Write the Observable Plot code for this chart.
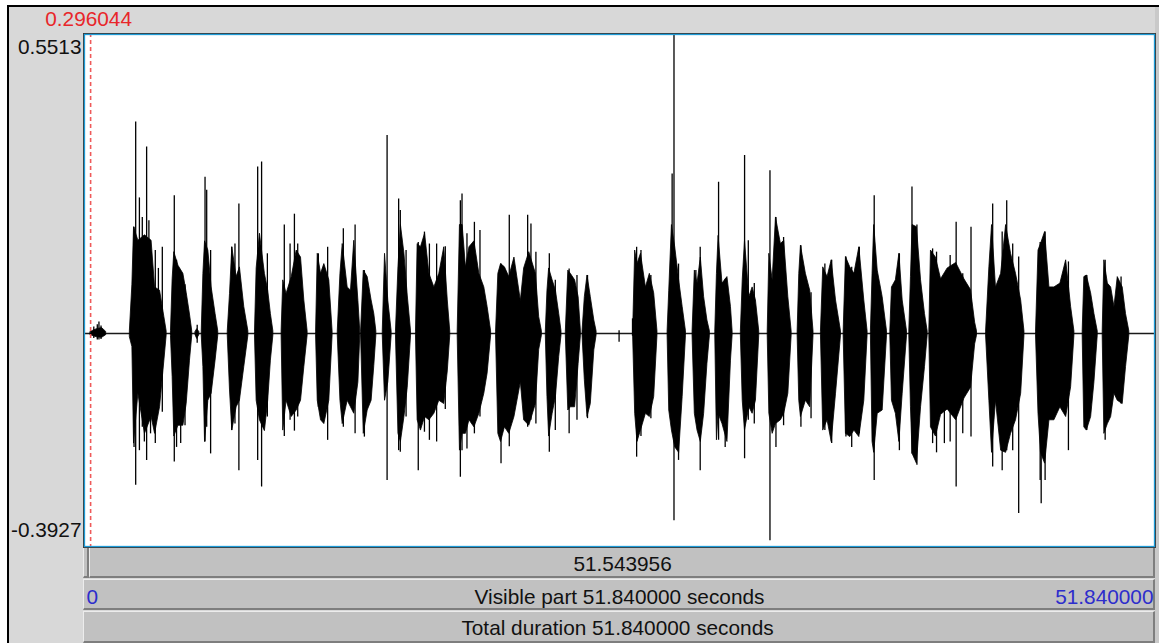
<!DOCTYPE html>
<html>
<head>
<meta charset="utf-8">
<script src="https://cdn.jsdelivr.net/npm/d3@7"></script>
<script src="https://cdn.jsdelivr.net/npm/@observablehq/plot@0.6"></script>
<style>
  html, body { margin: 0; padding: 0; background: #fff; }
  #win { position: relative; width: 1159px; height: 643px; overflow: hidden; font-family: "Liberation Sans", Arial, sans-serif; }
  #panel { position: absolute; left: 7px; top: 5px; width: 1152px; height: 638px; box-sizing: border-box;
           background: #d8d8d8; border-left: 2px solid #000; border-top: 2px solid #000; }
  #rightStrip { position: absolute; left: 1155px; top: 7px; width: 4px; height: 636px; background: #c9c9c9; }
  .bar { position: absolute; box-sizing: border-box; background: #c1c1c1;
         border-top: 1px solid #ececec; border-left: 1px solid #ececec;
         border-bottom: 2px solid #7e7e7e; border-right: 2px solid #7e7e7e; }
  #plot { position: absolute; left: 0; top: 0; }
</style>
</head>
<body>
<div id="win">
  <div id="panel"></div>
  <div id="rightStrip"></div>
  <div class="bar" id="bar1a" style="left:83px; top:547px; width:6px; height:31px;"></div>
  <div class="bar" id="bar1b" style="left:89px; top:547px; width:1066px; height:31px;"></div>
  <div class="bar" style="left:83px; top:579px; width:1072px; height:31px;"></div>
  <div class="bar" style="left:83px; top:611px; width:1072px; height:32px;"></div>
  <div id="plot"></div>
</div>
<script>
// Sound: total duration and amplitude range (s, linear amplitude)
const duration = 51.84;
const visibleStart = 0;
const visibleEnd = 51.84;
const ampMax = 0.5513;
const ampMin = -0.3927;
const selectionStart = 0.296044;

// Envelope of each voiced stretch: [time s, upper amplitude, lower amplitude]
const bursts = [
  [[0.30,.003,-.003],[0.60,.008,-.007],[0.85,.01,-.008],[1.05,.003,-.003]],
  [[2.20,.006,-.007],[2.32,.09,-.025],[2.40,.196,-.203],[2.61,.171,-.111],[2.93,.181,-.185],[3.25,.171,-.154],[3.42,.085,-.185],[3.66,.079,-.136],[3.87,.03,-.05],[3.98,.004,-.004]],
  [[4.19,.005,-.005],[4.27,.10,-.08],[4.35,.15,-.19],[4.55,.125,-.17],[4.79,.11,-.17],[4.95,.075,-.13],[5.11,.035,-.05],[5.22,.004,-.004]],
  [[5.38,.003,-.003],[5.46,.008,-.01],[5.56,.003,-.003]],
  [[5.68,.004,-.004],[5.76,.11,-.062],[5.84,.17,-.2],[6.00,.153,-.124],[6.16,.085,-.111],[6.35,.036,-.05],[6.48,.004,-.004]],
  [[6.94,.004,-.004],[7.05,.073,-.105],[7.16,.159,-.179],[7.37,.104,-.136],[7.53,.122,-.124],[7.74,.049,-.062],[7.94,.004,-.004]],
  [[8.26,.004,-.004],[8.34,.12,-.124],[8.50,.184,-.16],[8.74,.11,-.18],[8.90,.079,-.124],[9.03,.036,-.05],[9.15,.004,-.004]],
  [[9.55,.004,-.004],[9.63,.098,-.179],[9.79,.073,-.124],[10.04,.104,-.154],[10.28,.153,-.142],[10.49,.14,-.124],[10.65,.061,-.062],[10.81,.004,-.004]],
  [[11.22,.004,-.004],[11.30,.147,-.124],[11.46,.11,-.16],[11.62,.128,-.167],[11.86,.098,-.124],[12.02,.004,-.004]],
  [[12.27,.004,-.004],[12.40,.11,-.124],[12.51,.165,-.167],[12.75,.085,-.124],[12.91,.079,-.136],[13.07,.171,-.148],[13.27,.06,-.09],[13.36,.004,-.004]],
  [[13.40,.004,-.004],[13.53,.116,-.185],[13.72,.104,-.142],[13.91,.061,-.124],[14.04,.036,-.06],[14.14,.004,-.004]],
  [[14.45,.004,-.004],[14.56,.147,-.124],[14.72,.06,-.09],[14.88,.004,-.004]],
  [[15.09,.004,-.004],[15.21,.122,-.185],[15.33,.2,-.2],[15.50,.147,-.154],[15.66,.07,-.1],[15.82,.004,-.004]],
  [[16.06,.004,-.004],[16.14,.165,-.16],[16.30,.159,-.179],[16.50,.184,-.154],[16.71,.11,-.16],[16.95,.085,-.148],[17.19,.11,-.124],[17.43,.159,-.13],[17.60,.061,-.07],[17.72,.004,-.004]],
  [[18.08,.004,-.004],[18.19,.2,-.216],[18.32,.2,-.185],[18.48,.122,-.185],[18.65,.159,-.16],[18.89,.17,-.173],[19.13,.11,-.148],[19.37,.085,-.111],[19.53,.049,-.074],[19.70,.004,-.004]],
  [[19.94,.004,-.004],[20.05,.11,-.185],[20.18,.128,-.2],[20.37,.122,-.173],[20.58,.104,-.185],[20.83,.14,-.154],[21.14,.06,-.09],[21.30,.12,-.16],[21.55,.15,-.17],[21.87,.11,-.13],[22.03,.03,-.03],[22.16,.004,-.004]],
  [[22.35,.004,-.004],[22.43,.079,-.117],[22.51,.12,-.19],[22.68,.098,-.148],[22.84,.079,-.117],[23.00,.036,-.043],[23.11,.004,-.004]],
  [[23.32,.004,-.004],[23.44,.116,-.142],[23.56,.11,-.136],[23.77,.098,-.136],[23.94,.067,-.056],[24.05,.004,-.004]],
  [[24.13,.004,-.004],[24.24,.067,-.086],[24.37,.107,-.154],[24.53,.067,-.13],[24.70,.024,-.031],[24.81,.004,-.004]],
  [[26.58,.004,-.004],[26.68,.153,-.148],[26.79,.128,-.2],[26.96,.147,-.179],[27.20,.085,-.148],[27.39,.11,-.154],[27.60,.074,-.117],[27.76,.004,-.004]],
  [[28.25,.004,-.004],[28.33,.079,-.142],[28.46,.2,-.179],[28.62,.159,-.21],[28.81,.098,-.22],[28.98,.049,-.117],[29.14,.004,-.004]],
  [[29.46,.004,-.004],[29.57,.116,-.148],[29.70,.092,-.179],[29.86,.14,-.2],[30.02,.067,-.148],[30.18,.024,-.056],[30.30,.004,-.004]],
  [[30.56,.004,-.004],[30.64,.11,-.197],[30.72,.18,-.148],[30.91,.092,-.167],[31.15,.104,-.2],[31.32,.049,-.05],[31.40,.004,-.004]],
  [[31.80,.004,-.004],[31.89,.098,-.124],[32.00,.171,-.179],[32.21,.067,-.136],[32.37,.085,-.148],[32.53,.061,-.124],[32.69,.004,-.004]],
  [[33.10,.004,-.004],[33.18,.147,-.148],[33.34,.098,-.185],[33.50,.214,-.167],[33.74,.165,-.16],[33.90,.171,-.148],[34.10,.067,-.111],[34.26,.004,-.004]],
  [[34.55,.004,-.004],[34.63,.11,-.124],[34.71,.162,-.154],[34.95,.11,-.124],[35.16,.079,-.136],[35.32,.004,-.004]],
  [[35.68,.004,-.004],[35.79,.122,-.179],[36.00,.104,-.16],[36.20,.135,-.2],[36.41,.061,-.111],[36.65,.004,-.004]],
  [[36.78,.004,-.004],[36.89,.141,-.185],[37.10,.122,-.191],[37.30,.11,-.179],[37.54,.159,-.191],[37.78,.061,-.124],[37.94,.004,-.004]],
  [[38.10,.004,-.004],[38.18,.11,-.2],[38.26,.2,-.22],[38.43,.116,-.148],[38.67,.067,-.142],[38.88,.004,-.004]],
  [[39.04,.004,-.004],[39.12,.085,-.124],[39.31,.098,-.148],[39.48,.147,-.2],[39.64,.061,-.111],[39.85,.004,-.004]],
  [[39.96,.004,-.004],[40.04,.104,-.136],[40.12,.2,-.222],[40.33,.196,-.24],[40.53,.098,-.136],[40.72,.036,-.062],[40.85,.004,-.004]],
  [[40.93,.004,-.004],[41.01,.153,-.173],[41.25,.14,-.19],[41.50,.10,-.15],[41.82,.12,-.14],[42.23,.13,-.16],[42.63,.10,-.12],[42.95,.08,-.10],[43.15,.02,-.02],[43.24,.004,-.004]],
  [[43.68,.004,-.004],[43.84,.122,-.124],[43.97,.2,-.22],[44.16,.085,-.124],[44.41,.11,-.216],[44.65,.2,-.22],[44.89,.147,-.185],[45.13,.11,-.16],[45.38,.061,-.111],[45.54,.004,-.004]],
  [[46.10,.004,-.004],[46.22,.153,-.148],[46.34,.165,-.22],[46.54,.187,-.24],[46.75,.085,-.16],[46.99,.085,-.16],[47.28,.092,-.136],[47.56,.135,-.154],[47.80,.049,-.099],[47.96,.004,-.004]],
  [[48.36,.004,-.004],[48.44,.104,-.173],[48.56,.107,-.179],[48.77,.074,-.154],[48.93,.036,-.09],[49.09,.004,-.004]],
  [[49.33,.004,-.004],[49.41,.135,-.185],[49.58,.092,-.167],[49.74,.085,-.154],[49.90,.049,-.111],[50.06,.104,-.124],[50.30,.085,-.13],[50.46,.036,-.062],[50.62,.004,-.004]]
];

// Isolated peaks that stick out of the envelopes: [time s, max, min]
const peaks = [
  [0.45,.012,-.009],[0.62,.016,-.012],[0.70,.021,-.012],[0.80,.014,-.011],[5.46,.015,-.018],
  [2.40,.196,-.21],[2.48,.39,-.28],[2.66,.25,-.216],[2.80,.214,-.173],[2.90,.18,-.2],[3.01,.344,-.234],[3.12,.208,-.154],[3.20,.12,-.185],[3.43,.153,-.203],[3.58,.12,-.124],[3.77,.159,-.145],
  [4.35,.254,-.237],[4.46,.135,-.21],[4.66,.11,-.203],[4.87,.09,-.17],
  [5.84,.288,-.20],[5.92,.264,-.173],[6.11,.153,-.222],
  [7.13,.159,-.179],[7.29,.165,-.167],[7.48,.239,-.253],
  [8.39,.307,-.234],[8.58,.316,-.283],[8.86,.147,-.154],
  [9.68,.2,-.19],[9.96,.165,-.16],[10.17,.22,-.18],[10.33,.165,-.154],
  [11.33,.147,-.136],[11.78,.159,-.197],
  [12.54,.193,-.173],[13.11,.2,-.185],[13.56,.116,-.191],
  [14.66,.365,-.271],
  [15.22,.248,-.216],[15.30,.227,-.219],[15.58,.153,-.154],
  [16.17,.168,-.253],[16.47,.187,-.182],[16.71,.165,-.197],[17.06,.165,-.2],[17.48,.16,-.14],
  [18.21,.245,-.265],[18.29,.257,-.216],[18.53,.184,-.213],[18.89,.205,-.185],[19.16,.19,-.154],
  [20.18,.128,-.24],[20.58,.218,-.209],[21.47,.218,-.173],[21.63,.202,-.16],[21.87,.15,-.167],
  [22.52,.147,-.219],[22.81,.098,-.179],
  [23.48,.119,-.185],[23.86,.107,-.16],
  [24.37,.107,-.157],
  [25.90,.005,-.016],[26.55,.027,-.005],
  [26.75,.159,-.228],[26.96,.153,-.19],[27.44,.107,-.157],
  [28.47,.294,-.148],[28.56,.5513,-.345],[28.78,.128,-.234],
  [29.62,.116,-.157],[29.83,.159,-.253],
  [30.72,.279,-.197],[31.04,.10,-.21],
  [31.98,.328,-.231],[32.16,.171,-.16],[32.45,.092,-.167],
  [33.21,.30,-.382],[33.50,.214,-.21],[33.87,.177,-.17],
  [34.71,.162,-.173],[35.20,.075,-.157],
  [35.87,.128,-.179],[36.20,.135,-.203],
  [36.89,.141,-.191],[37.17,.122,-.21],[37.54,.159,-.185],
  [38.26,.254,-.271],
  [39.48,.147,-.216],
  [40.09,.27,-.222],[40.33,.2,-.243],
  [41.09,.156,-.203],[41.28,.15,-.22],[41.66,.104,-.203],[41.94,.144,-.2],[42.23,.205,-.283],[42.55,.11,-.185],[42.95,.196,-.191],
  [44.00,.239,-.246],[44.46,.187,-.253],[44.68,.245,-.216],[44.97,.165,-.216],[45.26,.141,-.332],
  [46.30,.168,-.271],[46.35,.165,-.314],[46.54,.187,-.271],[47.67,.132,-.216],
  [48.56,.107,-.179],
  [49.45,.135,-.197],[50.22,.104,-.13]
];

const envelope = bursts.flatMap((b, i) => b.map(([t, hi, lo]) => ({id: i, t, hi, lo})));
const spikes = peaks.map(([t, hi, lo]) => ({t, hi, lo}));

const fmt6 = d => d.toFixed(6);
const ink = "#111";
const red = "#e8262a";
const blue = "#2d2dcc";

const chart = Plot.plot({
  width: 1159,
  height: 643,
  marginLeft: 83,
  marginRight: 4,
  marginTop: 33,
  marginBottom: 96,
  insetLeft: 1, insetRight: 1, insetTop: 1, insetBottom: 1,
  x: {domain: [visibleStart, visibleEnd], axis: null},
  y: {domain: [ampMin, ampMax], axis: null},
  style: {background: "transparent", fontFamily: "'Liberation Sans', Arial, sans-serif", fontSize: "20.8px", overflow: "visible"},
  marks: [
    Plot.frame({fill: "white"}),
    Plot.ruleY([0], {stroke: "#1a1a1a", strokeWidth: 1.6}),
    Plot.areaY(envelope, {x: "t", y1: "lo", y2: "hi", z: "id", fill: "black", stroke: "black", strokeWidth: 0.8, curve: "linear"}),
    Plot.ruleX(spikes, {x: "t", y1: "lo", y2: "hi", stroke: "black", strokeWidth: 1.3}),
    Plot.ruleX([selectionStart], {stroke: "#ef5a5a", strokeWidth: 1.6, strokeDasharray: "4,3"}),
    Plot.frame({stroke: "#3a3a3a", strokeWidth: 1}),
    Plot.frame({stroke: "#1e9bd7", strokeWidth: 1.3, inset: 1}),
    // amplitude range labels
    Plot.text([ampMax], {y: d => d, frameAnchor: "left", text: d => d.toFixed(4), textAnchor: "end", dx: -2, dy: 12.5, fill: ink, lineAnchor: "middle"}),
    Plot.text([ampMin], {y: d => d, frameAnchor: "left", text: d => d.toFixed(4), textAnchor: "end", dx: -2, dy: -16, fill: ink, lineAnchor: "middle"}),
    // cursor time
    Plot.text([selectionStart], {x: d => d, frameAnchor: "top", text: fmt6, dy: -14, dx: -2, fill: red, lineAnchor: "middle"}),
    // selection length
    Plot.text([visibleEnd - selectionStart], {x: () => (selectionStart + visibleEnd) / 2, frameAnchor: "bottom", text: fmt6, dy: 16.5, fill: ink, lineAnchor: "middle"}),
    // visible part row
    Plot.text([visibleStart], {frameAnchor: "bottom-left", text: d => String(d), textAnchor: "start", dx: 3, dy: 50, fill: blue, lineAnchor: "middle"}),
    Plot.text([visibleEnd - visibleStart], {x: () => (visibleStart + visibleEnd) / 2, frameAnchor: "bottom", text: d => `Visible part ${fmt6(d)} seconds`, dy: 49.5, fill: ink, lineAnchor: "middle"}),
    Plot.text([visibleEnd], {frameAnchor: "bottom-right", text: fmt6, textAnchor: "end", dx: -2, dy: 50, fill: blue, lineAnchor: "middle"}),
    // total duration row
    Plot.text([duration], {x: () => duration / 2, frameAnchor: "bottom", text: d => `Total duration ${fmt6(d)} seconds`, dy: 81.3, dx: -2, fill: ink, lineAnchor: "middle"})
  ]
});

document.getElementById("plot").appendChild(chart);

// split the first bar at the cursor position
const xs = chart.scale("x");
const cut = Math.round(xs.apply(selectionStart)) - 1;
const a = document.getElementById("bar1a");
const b = document.getElementById("bar1b");
a.style.width = (cut - 83) + "px";
b.style.left = cut + "px";
b.style.width = (1155 - cut) + "px";
</script>
</body>
</html>
